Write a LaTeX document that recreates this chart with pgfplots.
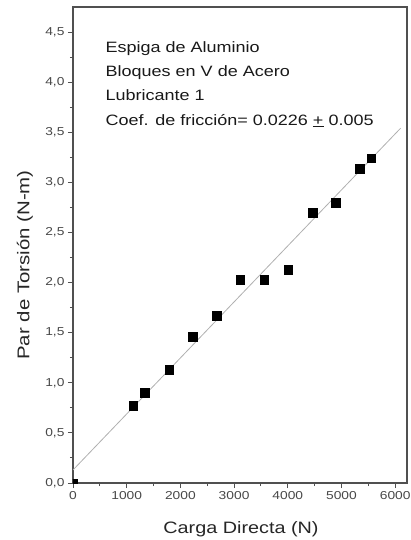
\documentclass[border=0pt]{standalone}
\usepackage{fontspec}
\setmainfont[FakeStretch=1.2]{Liberation Sans}
\usepackage{pgfplots}
\pgfplotsset{compat=1.18}

\definecolor{axisgray}{HTML}{505050}
\definecolor{ticktext}{HTML}{484848}
\definecolor{fitgray}{HTML}{B0B0B0}

\begin{document}
\begin{tikzpicture}
\begin{axis}[
    at={(0,0)}, anchor=south west,
    scale only axis,
    width=334pt, height=476pt,
    xmin=0, xmax=6220,
    ymin=0, ymax=4.75,
    xtick={0,1000,...,6000},
    ytick={0,0.5,...,4.5},
    minor x tick num=1,
    minor y tick num=1,
    tick align=outside,
    tick pos=left,
    major tick length=5pt,
    minor tick length=3pt,
    axis line style={axisgray, line width=1.3pt},
    every tick/.style={axisgray, line width=0.9pt},
    scaled x ticks=false,
    /pgf/number format/assume math mode=true,
    xticklabel style={font=\fontsize{11.5}{13}\selectfont, text=ticktext,
        /pgf/number format/set thousands separator={}},
    yticklabel style={font=\fontsize{11.5}{13}\selectfont, text=ticktext,
        /pgf/number format/fixed, /pgf/number format/fixed zerofill,
        /pgf/number format/precision=1, /pgf/number format/use comma},
    xlabel={Carga Directa (N)},
    ylabel={Par de Torsión (N-m)},
    every axis x label/.style={at={(axis description cs:0.503,0)}, anchor=center,
        yshift=-46pt, font=\fontsize{16.5}{18}\selectfont, text=black!85},
    every axis y label/.style={at={(axis description cs:0,0.458)}, anchor=center,
        rotate=90, yshift=48pt, font=\fontsize{17}{19}\selectfont, text=black!85},
    clip marker paths=true,
]
% ajuste lineal
\addplot[fitgray, line width=0.8pt, forget plot] coordinates {(0,0.13) (6100,3.54)};
% datos medidos
\addplot[only marks, mark=square*, mark size=4.3pt, black] coordinates {
    (0,0)
    (1120,0.77) (1338,0.90) (1791,1.13) (2227,1.46) (2681,1.667)
    (3116,2.027) (3558,2.027) (4011,2.13) (4459,2.70) (4895,2.80)
    (5336,3.137) (5554,3.24)
};
\end{axis}
\begin{scope}[every node/.style={anchor=base west, inner sep=0pt,
        font=\fontsize{15}{17}\selectfont, text=black!90}]
\node at (32.5pt,430.7pt) {Espiga de Aluminio};
\node at (32.5pt,406.7pt) {Bloques en V de Acero};
\node at (32.5pt,382.5pt) {Lubricante 1};
\node at (32.5pt,357.9pt) {Coef. de fricción= 0.0226 \underline{+} 0.005};
\end{scope}
\pgfresetboundingbox
\useasboundingbox (-73pt,-57pt) rectangle (338pt,483pt);
\end{tikzpicture}
\end{document}
